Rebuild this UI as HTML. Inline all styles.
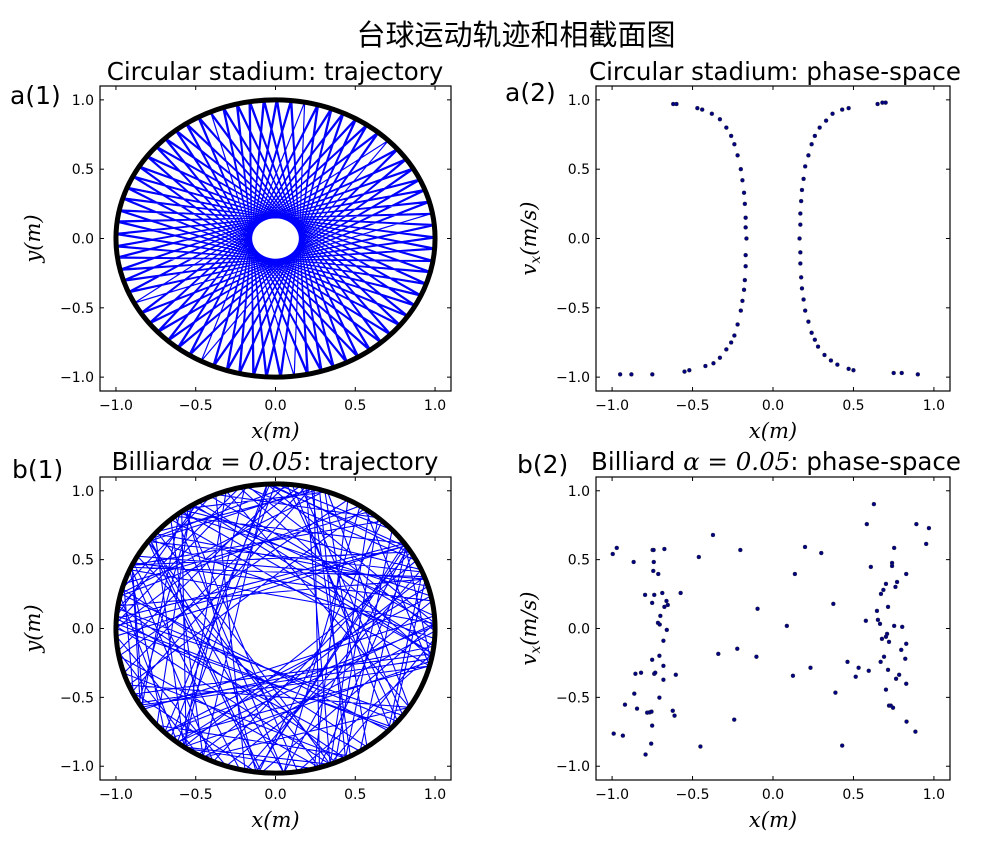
<!DOCTYPE html>
<html><head><meta charset="utf-8"><style>
body{margin:0;background:#fff;}
svg{display:block;font-family:"DejaVu Sans","Liberation Sans",sans-serif;}
.tick{font-size:14px;}
.math{font-family:"DejaVu Serif","Liberation Serif",serif;font-style:italic;font-size:21px;}
</style></head><body>
<svg id="fig" width="1000" height="867" viewBox="0 0 1000 867" xmlns="http://www.w3.org/2000/svg">
<rect width="1000" height="867" fill="#fff"/>
<text x="516" y="45" text-anchor="middle" font-size="29" font-family="'Liberation Sans','Noto Sans CJK SC',sans-serif">台球运动轨迹和相截面图</text>
<text x="10" y="104" font-size="25">a(1)</text>
<text x="505" y="101" font-size="25">a(2)</text>
<text x="12" y="478" font-size="25">b(1)</text>
<text x="517" y="473" font-size="25">b(2)</text>
<text x="275" y="80" text-anchor="middle" font-size="24.5">Circular stadium: trajectory</text>
<text x="775" y="80" text-anchor="middle" font-size="24.5">Circular stadium: phase-space</text>
<text x="275" y="470" text-anchor="middle" font-size="24.5">Billiard<tspan font-family="'DejaVu Serif',serif" font-style="italic">α</tspan><tspan font-family="'DejaVu Serif',serif"> = </tspan><tspan font-family="'DejaVu Serif',serif" font-style="italic">0.05</tspan>: trajectory</text>
<text x="776" y="470" text-anchor="middle" font-size="24.5">Billiard <tspan font-family="'DejaVu Serif',serif" font-style="italic">α</tspan><tspan font-family="'DejaVu Serif',serif"> = </tspan><tspan font-family="'DejaVu Serif',serif" font-style="italic">0.05</tspan>: phase-space</text>
</svg>
<script>
// ---- data ----
const ticks = [-1.0, -0.5, 0.0, 0.5, 1.0];
const tickLabels = ["\u22121.0", "\u22120.5", "0.0", "0.5", "1.0"];
// a(1): circular billiard, impact parameter & number of bounces
const a1Impact = 0.15;
const a1Bounces = 140;
const a1Start = 10;
// a(2) phase-space points
const a2X = [-0.95,-0.88,-0.75,-0.55,-0.52,-0.42,-0.37,-0.33,-0.29,-0.26,-0.24,-0.22,-0.2,-0.19,-0.18,-0.175,-0.17,-0.17,-0.165,-0.17,-0.17,-0.175,-0.18,-0.19,-0.2,-0.22,-0.24,-0.26,-0.29,-0.33,-0.38,-0.44,-0.47,-0.6,-0.62,
 0.9,0.8,0.75,0.5,0.47,0.4,0.36,0.32,0.28,0.26,0.24,0.22,0.2,0.19,0.18,0.175,0.17,0.17,0.165,0.17,0.17,0.175,0.18,0.19,0.2,0.22,0.24,0.26,0.29,0.33,0.37,0.43,0.47,0.65,0.68,0.7];
const a2V = [-0.98,-0.98,-0.98,-0.96,-0.95,-0.92,-0.9,-0.86,-0.8,-0.75,-0.7,-0.62,-0.52,-0.45,-0.37,-0.3,-0.2,-0.12,0.0,0.08,0.15,0.25,0.33,0.42,0.5,0.6,0.68,0.74,0.8,0.86,0.9,0.93,0.94,0.97,0.97,
 -0.98,-0.97,-0.97,-0.95,-0.94,-0.91,-0.88,-0.84,-0.78,-0.73,-0.68,-0.6,-0.52,-0.44,-0.36,-0.28,-0.18,-0.1,0.0,0.1,0.18,0.27,0.35,0.43,0.52,0.6,0.68,0.74,0.8,0.85,0.9,0.93,0.94,0.97,0.98,0.98];
// b(1): angular step (deg) between successive bounces
const b1Steps = [130,142,118,62,147,125,101,153,72,136,110,48,139,128,95,150,67,121,144,106,
 58,133,146,112,84,141,127,55,149,119,98,138,64,152,124,108,45,143,131,90,
 137,115,69,148,126,103,52,140,134,92,145,122,60,151,117,100,76,139,129,57,
 132,144,111,66,146,123,97,154,70,135,113,50,141,127,94,149,68,120,143,105,
 61,134,147,114,86,140,126,56,148,118,99,137,63,151,125,107,47,142,130,91,
 136,116,71,147,124,104,53,139,133,93,144,121,59,150,116,101,78,138,128,58,
 131,145,109,65,145,122,96,153,73,134,112,49,140,126,93,148,69,119,142,104];
const b1Start = 20;
const b1Rx = 1.0, b1Ry = 1.05;
// b(2) phase-space points
const b2X = [-0.996,-0.971,-0.866,-0.748,-0.742,-0.675,-0.741,-0.744,-0.713,-0.795,-0.738,-0.688,-0.574,-0.751,-0.662,-0.675,-0.654,-0.700,-0.715,-0.704,-0.660,-0.681,-0.751,-0.706,-0.681,-0.855,-0.820,-0.738,-0.732,-0.681,-0.604,-0.862,-0.706,-0.920,-0.845,-0.782,-0.767,-0.755,-0.623,-0.612,-0.751,-0.990,-0.933,-0.757,-0.792,-0.461,-0.373,-0.203,-0.096,-0.340,-0.222,-0.103,-0.241,-0.451,0.086,0.136,0.199,0.300,0.375,0.233,0.124,0.388,0.430,0.463,0.532,0.514,0.595,0.627,0.583,0.608,0.753,0.740,0.740,0.828,0.771,0.761,0.702,0.686,0.671,0.646,0.715,0.577,0.652,0.665,0.677,0.709,0.702,0.753,0.803,0.721,0.828,0.797,0.690,0.669,0.822,0.715,0.784,0.765,0.828,0.702,0.721,0.732,0.746,0.830,0.885,0.891,0.969,0.952];
const b2V = [0.541,0.585,0.483,0.570,0.570,0.577,0.483,0.418,0.396,0.244,0.244,0.258,0.258,0.186,0.200,0.157,0.171,0.092,0.041,0.029,-0.010,-0.089,-0.227,-0.198,-0.271,-0.329,-0.321,-0.329,-0.321,-0.372,-0.336,-0.473,-0.502,-0.553,-0.582,-0.611,-0.609,-0.604,-0.597,-0.633,-0.705,-0.763,-0.778,-0.836,-0.915,0.519,0.679,0.570,0.143,-0.184,-0.147,-0.205,-0.662,-0.857,0.019,0.396,0.592,0.548,0.179,-0.285,-0.343,-0.466,-0.850,-0.242,-0.285,-0.350,-0.307,0.903,0.758,0.447,0.585,0.476,0.454,0.396,0.338,0.302,0.324,0.280,0.251,0.128,0.157,0.056,0.063,0.034,-0.075,-0.039,-0.060,0.019,0.012,-0.097,-0.111,-0.155,-0.205,-0.242,-0.220,-0.300,-0.336,-0.365,-0.401,-0.444,-0.560,-0.560,-0.575,-0.676,-0.749,0.758,0.729,0.614];

// ---- drawing ----
const NS = "http://www.w3.org/2000/svg";
const svg = document.getElementById("fig");
function el(tag, attrs, parent) {
  const e = document.createElementNS(NS, tag);
  for (const k in attrs) e.setAttribute(k, attrs[k]);
  (parent || svg).appendChild(e);
  return e;
}
function makeAxes(name, L, R, T, B, xlab, ylab) {
  const g = el("g", {});
  
  
  const sx = v => L + (v + 1.1) / 2.2 * (R - L);
  const sy = v => T + (1.1 - v) / 2.2 * (B - T);
  const clipId = "clip-" + name;
  const cp = el("clipPath", { id: clipId }, g);
  el("rect", { x: L, y: T, width: R - L, height: B - T }, cp);
  const plot = el("g", { "clip-path": "url(#" + clipId + ")" }, g);
  
  
  return { g, plot, sx, sy, L, R, T, B, xlab, ylab, name };
}
function finishAxes(ax) {
  const { g, sx, sy, L, R, T, B } = ax;
  for (let i = 0; i < ticks.length; i++) {
    const x = sx(ticks[i]), y = sy(ticks[i]);
    el("line", { x1: x, x2: x, y1: B, y2: B - 4, stroke: "#000" }, g);
    el("line", { x1: x, x2: x, y1: T, y2: T + 4, stroke: "#000" }, g);
    el("line", { x1: L, x2: L + 4, y1: y, y2: y, stroke: "#000" }, g);
    el("line", { x1: R, x2: R - 4, y1: y, y2: y, stroke: "#000" }, g);
    const tx = el("text", { x: x, y: B + 19, "text-anchor": "middle", class: "tick" }, g);
    tx.textContent = tickLabels[i];
    
    
    const ty = el("text", { x: L - 6, y: y + 5, "text-anchor": "end", class: "tick" }, g);
    ty.textContent = tickLabels[i];
    
    
  }
  el("rect", { x: L, y: T, width: R - L, height: B - T, fill: "none", stroke: "#000", "stroke-width": 1.2 }, g);
  const xl = el("text", { x: (L + R) / 2, y: B + 47, "text-anchor": "middle", class: "math" }, g);
  xl.innerHTML = ax.xlab;
  
  
  const cy = (T + B) / 2;
  const yl = el("text", { x: 0, y: 0, "text-anchor": "middle", class: "math", transform: "translate(" + (L - 60) + "," + cy + ") rotate(-90)" }, g);
  yl.innerHTML = ax.ylab;
  
  
}
const XL = "x(m)";
const YL = "y(m)";
const VL = "v<tspan font-size=\"14\" dy=\"4\">x</tspan><tspan dy=\"-4\">(m/s)</tspan>";

// a(1)
const a1 = makeAxes("axes-a1", 100, 451, 86, 391, XL, YL);
{
  const step = Math.PI - 2 * Math.asin(a1Impact);
  let d = "";
  for (let k = 0; k <= a1Bounces; k++) {
    const th = a1Start * Math.PI / 180 + k * step;
    d += (k ? "L" : "M") + a1.sx(Math.cos(th)).toFixed(2) + "," + a1.sy(Math.sin(th)).toFixed(2);
  }
  const p = el("path", { d, fill: "none", stroke: "#0000ff", "stroke-width": 1.2 }, a1.plot);
  
  
  const c = el("ellipse", { cx: a1.sx(0), cy: a1.sy(0), rx: a1.sx(1) - a1.sx(0), ry: a1.sy(0) - a1.sy(1), fill: "none", stroke: "#000", "stroke-width": 5 }, a1.plot);
  
  
}
finishAxes(a1);

function scatter(ax, xs, vs) {
  for (let i = 0; i < xs.length; i++) {
    const c = el("circle", { cx: ax.sx(xs[i]), cy: ax.sy(vs[i]), r: 2, fill: "#000080", stroke: "#333", "stroke-width": 0.4 }, ax.plot);
    
    
  }
}
// a(2)
const a2 = makeAxes("axes-a2", 596, 950, 86, 391, XL, VL);
scatter(a2, a2X, a2V);
finishAxes(a2);

// b(1)
const b1 = makeAxes("axes-b1", 100, 451, 477, 780, XL, YL);
{
  let ang = b1Start;
  let d = "M" + b1.sx(b1Rx * Math.cos(ang * Math.PI / 180)).toFixed(2) + "," + b1.sy(b1Ry * Math.sin(ang * Math.PI / 180)).toFixed(2);
  b1Steps.forEach(s => {
    ang += s;
    const th = ang * Math.PI / 180;
    d += "L" + b1.sx(b1Rx * Math.cos(th)).toFixed(2) + "," + b1.sy(b1Ry * Math.sin(th)).toFixed(2);
  });
  const p = el("path", { d, fill: "none", stroke: "#0000ff", "stroke-width": 1.1 }, b1.plot);
  
  
  const c = el("ellipse", { cx: b1.sx(0), cy: b1.sy(0), rx: b1.sx(b1Rx) - b1.sx(0), ry: b1.sy(0) - b1.sy(b1Ry), fill: "none", stroke: "#000", "stroke-width": 5 }, b1.plot);
  
  
}
finishAxes(b1);

// b(2)
const b2 = makeAxes("axes-b2", 596, 950, 477, 780, XL, VL);
scatter(b2, b2X, b2V);
finishAxes(b2);
</script>
</body></html>
